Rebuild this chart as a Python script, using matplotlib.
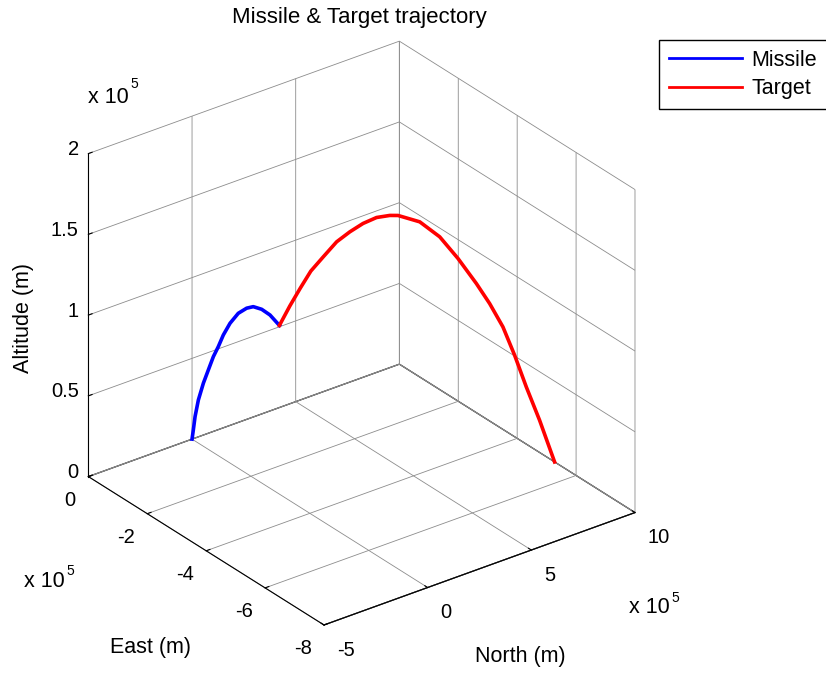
"""
Trayectoria 3D de misil y blanco, al estilo de una figura de MATLAB.
"""

import matplotlib
matplotlib.use("Agg")
import matplotlib.pyplot as plt
import numpy as np
from matplotlib.ticker import NullFormatter
from mpl_toolkits.mplot3d import proj3d

W, H = 826, 675
SCALE = 1e5  # los ejes se rotulan en unidades de 1e5 m

# Trayectorias (unidades de 1e5 m)
missile_north = [0.0, 0.036, 0.084, 0.175, 0.313, 0.451, 0.588, 0.725, 0.863,
                 1.048, 1.275, 1.506, 1.689, 1.921, 2.150, 2.41]
missile_east = [0.0, -0.019, -0.044, -0.092, -0.165, -0.237, -0.310, -0.382, -0.455,
                -0.552, -0.672, -0.794, -0.890, -1.012, -1.133, -1.27]
missile_alt = [0.0, 0.058, 0.141, 0.245, 0.351, 0.435, 0.519, 0.583, 0.657,
               0.732, 0.797, 0.832, 0.844, 0.831, 0.799, 0.738]

target_north = [10.0, 9.587, 9.220, 8.898, 8.575, 8.210, 7.843, 7.336, 6.832, 6.281,
                5.683, 5.454, 5.089, 4.717, 4.353, 3.989, 3.617, 3.278, 2.988,
                2.699, 2.41]
target_east = [-5.27, -5.052, -4.859, -4.689, -4.519, -4.326, -4.133, -3.866, -3.600,
               -3.310, -2.995, -2.874, -2.682, -2.486, -2.294, -2.102, -1.906,
               -1.727, -1.575, -1.422, -1.27]
target_alt = [0.0, 0.252, 0.453, 0.645, 0.816, 0.955, 1.074, 1.222, 1.349, 1.434,
              1.465, 1.462, 1.444, 1.402, 1.345, 1.278, 1.179, 1.087, 0.978,
              0.863, 0.738]

north_ticks = [-5, 0, 5, 10]
east_ticks = [-8, -6, -4, -2, 0]
alt_ticks = [0, 0.5, 1, 1.5, 2]
alt_labels = ["0", "0.5", "1", "1.5", "2"]

plt.rcParams["font.family"] = ["Liberation Sans", "DejaVu Sans"]
plt.rcParams["grid.color"] = "#8c8c8c"
plt.rcParams["grid.linewidth"] = 0.6

fig = plt.figure(figsize=(W / 100, H / 100), dpi=100)
ax = fig.add_subplot(projection="3d", proj_type="ortho")
ax.view_init(elev=28.5, azim=-127.15)
ax.set_box_aspect((1, 1, 0.942))

ax.plot(np.array(missile_north) * SCALE, np.array(missile_east) * SCALE,
        np.array(missile_alt) * SCALE, color="#0000ff", lw=2.6, label="Missile")
ax.plot(np.array(target_north) * SCALE, np.array(target_east) * SCALE,
        np.array(target_alt) * SCALE, color="#ff0000", lw=2.6, label="Target")

ax.set_xlim(north_ticks[0] * SCALE, north_ticks[-1] * SCALE)
ax.set_ylim(east_ticks[0] * SCALE, east_ticks[-1] * SCALE)
ax.set_zlim(alt_ticks[0] * SCALE, alt_ticks[-1] * SCALE)
ax.set_xticks(np.array(north_ticks) * SCALE)
ax.set_yticks(np.array(east_ticks) * SCALE)
ax.set_zticks(np.array(alt_ticks) * SCALE)

for axis in (ax.xaxis, ax.yaxis, ax.zaxis):
    axis.set_pane_color((1, 1, 1, 1))
    axis.pane.set_edgecolor("none")
    axis.set_major_formatter(NullFormatter())
    axis._axinfo["grid"].update(color="#8c8c8c", linewidth=0.6)
    axis._axinfo["tick"]["inward_factor"] = 0.0
    axis._axinfo["tick"]["outward_factor"] = 0.15
    axis._axinfo["axisline"]["linewidth"] = 1.0
ax.zaxis.pane.set_edgecolor("black")
ax.zaxis.pane.set_linewidth(0.9)


def a_px(n, e, z):
    """Coordenadas de datos -> píxeles de imagen (y hacia abajo)."""
    xs, ys, _ = proj3d.proj_transform(np.atleast_1d(n).astype(float),
                                      np.atleast_1d(e).astype(float),
                                      np.atleast_1d(z).astype(float), ax.M)
    d = ax.transData.transform(np.column_stack([xs, ys]))
    d[:, 1] = H - d[:, 1]
    return d


# Ajuste de la caja: esquinas de la figura original en píxeles
esquinas = np.array([[-5, -8, 0], [10, -8, 0], [-5, 0, 0], [-5, 0, 2], [10, 0, 2]]) * SCALE
destino = np.array([[324, 625], [635, 512.7], [88.3, 476.7], [88.8, 153.5], [399, 41]])
fig.canvas.draw()
bb = ax.get_position()
c0 = np.array([(bb.x0 + bb.width / 2) * W, H - (bb.y0 + bb.height / 2) * H])
s0 = bb.width * W
q = (a_px(esquinas[:, 0], esquinas[:, 1], esquinas[:, 2]) - c0) / s0
qm, tm = q.mean(axis=0), destino.mean(axis=0)
s = np.sum((q - qm) * (destino - tm)) / np.sum((q - qm) ** 2)
c = tm - s * qm
ax.set_position([(c[0] - s / 2) / W, (H - c[1] - s / 2) / H, s / W, s / H])
fig.canvas.draw()
renderer = fig.canvas.get_renderer()


def texto(x, y, t, **kw):
    return fig.text(x / W, 1 - y / H, t, **kw)


tick_fs = 14.5
lab_fs = 15.5
for n in north_ticks:
    p = a_px(n * SCALE, east_ticks[0] * SCALE, 0)[0]
    texto(p[0] + 13, p[1] + 30.6, f"{n:g}", ha="left", va="baseline", fontsize=tick_fs)
for e in east_ticks:
    p = a_px(north_ticks[0] * SCALE, e * SCALE, 0)[0]
    texto(p[0] - 12.5, p[1] + 29, f"{e:g}", ha="right", va="baseline", fontsize=tick_fs)
for z, lab in zip(alt_ticks, alt_labels):
    p = a_px(north_ticks[0] * SCALE, east_ticks[-1] * SCALE, z * SCALE)[0]
    texto(p[0] - 9.5, p[1] + 1.5, lab, ha="right", va="baseline", fontsize=tick_fs)

# Factores "x 10^5"
for (x, y, ys) in [(88.3, 103.3, 88), (24, 587.3, 575), (629.3, 612.7, 601.7)]:
    t = texto(x, y, "x 10", ha="left", va="baseline", fontsize=lab_fs)
    x_fin = t.get_window_extent(renderer=renderer).x1
    texto(x_fin + 1.5, ys, "5", ha="left", va="baseline", fontsize=10)

texto(359.5, 22.7, "Missile & Target trajectory", ha="center", va="baseline", fontsize=16)
texto(23.3, 318.3, "Altitude (m)", ha="center", va="center", rotation=90, fontsize=lab_fs)
texto(150, 653.3, "East (m)", ha="center", va="baseline", fontsize=lab_fs)
texto(520.3, 662, "North (m)", ha="center", va="baseline", fontsize=lab_fs)

leg = fig.legend(loc="upper left", bbox_to_anchor=(659 / W, 1 - 40 / H), borderaxespad=0,
                 fontsize=lab_fs, handlelength=3.4, handletextpad=0.45, borderpad=0.45,
                 labelspacing=0.35, fancybox=False, framealpha=1, edgecolor="black")
leg.get_frame().set_linewidth(1.0)
for h in leg.get_lines():
    h.set_linewidth(2.0)

fig.savefig("out.png", dpi=100)
